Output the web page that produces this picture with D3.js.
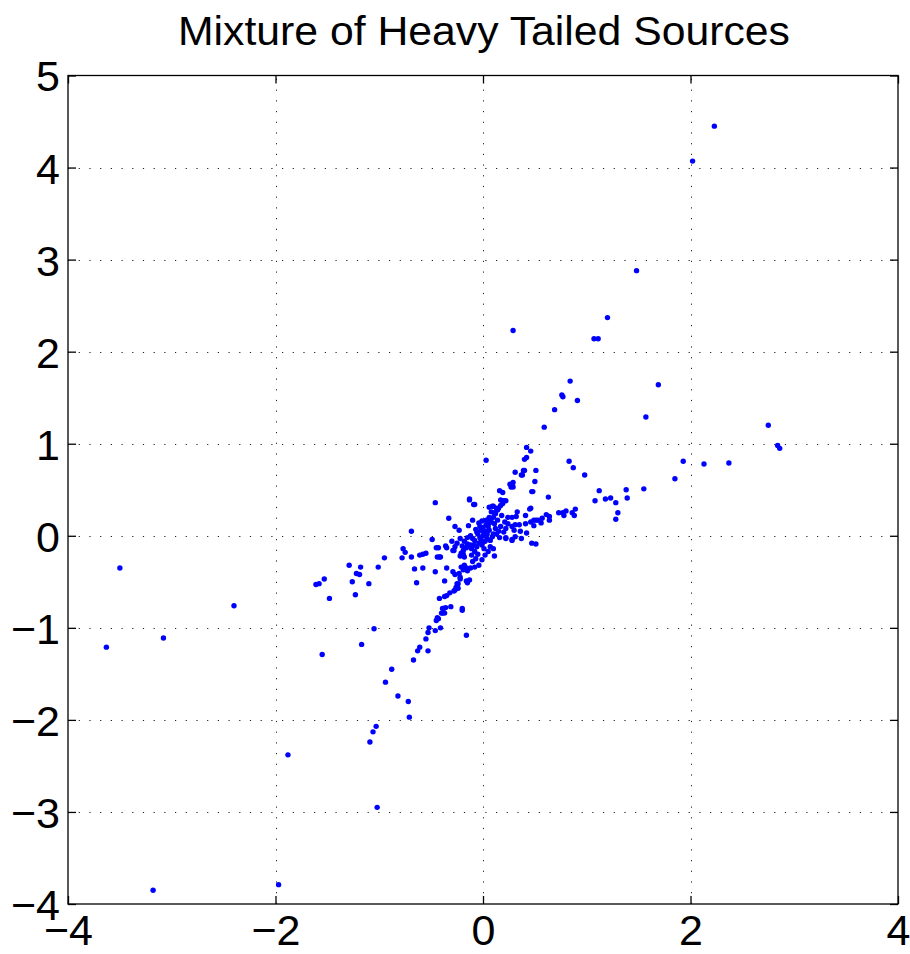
<!DOCTYPE html>
<html>
<head>
<meta charset="utf-8">
<script src="https://cdn.jsdelivr.net/npm/d3@7"></script>
<style>
  html, body { margin: 0; padding: 0; background: #fff; }
  svg { display: block; }
  text { font-family: "Liberation Sans", Arial, Helvetica, sans-serif; fill: #000; }
</style>
</head>
<body>
<svg id="chart" width="910" height="954"></svg>
<script>
const chartTitle = "Mixture of Heavy Tailed Sources";
const xDomain = [-4, 4];
const yDomain = [-4, 5];
const xTicks = [-4, -2, 0, 2, 4];
const yTicks = [-4, -3, -2, -1, 0, 1, 2, 3, 4, 5];

// [x, y] samples
const outerPoints = [
  [2.23,4.45],[2.02,4.07],[1.48,2.88],[1.20,2.37],[1.07,2.14],[1.11,2.14],[0.29,2.23],
  [0.84,1.68],[0.76,1.53],[0.77,1.51],[0.91,1.47],[0.69,1.37],[0.59,1.18],[1.69,1.64],
  [1.57,1.29],[2.75,1.20],[2.84,0.98],[2.86,0.95],[0.83,0.81],[0.87,0.74],[0.98,0.66],
  [1.93,0.81],[1.85,0.62],[2.13,0.78],[2.37,0.79],[1.12,0.49],[1.08,0.38],[1.18,0.40],
  [1.23,0.41],[1.28,0.36],[1.38,0.50],[1.39,0.41],[1.55,0.51],[1.30,0.25],[1.28,0.18],
  [-1.88,-2.38],[-1.02,-2.95],[-1.97,-3.79],[-3.18,-3.85],[-3.50,-0.35],[-2.40,-0.76],
  [-3.63,-1.21],[-3.08,-1.11],[-1.29,-0.32],[-1.18,-0.34],[-1.22,-0.41],[-1.19,-0.42],
  [-1.01,-0.34],[-1.53,-0.47],[-1.61,-0.53],[-1.58,-0.52],[-1.48,-0.68],[-1.26,-0.50],
  [-1.10,-0.52],[-1.23,-0.64],[-1.05,-1.01],[-1.17,-1.18],[-1.55,-1.29]
];
const upperArmPoints = [
  [0.77,0.25],[0.80,0.27],[0.78,0.22],[0.86,0.25],[0.89,0.29],[0.88,0.22],[0.73,0.25],
  [0.64,0.17],[0.64,0.21],[0.61,0.23],[0.57,0.19],[0.56,0.14],[0.51,0.17],[0.49,0.17],
  [0.46,0.15],[0.49,0.11],[0.41,0.13],[0.41,0.22],[0.32,0.21],[0.28,0.20],[0.24,0.20],
  [0.31,0.12],[0.21,0.15],[0.36,0.05],[0.06,0.20],[0.11,0.25],[0.13,0.30],[0.09,0.32],
  [0.06,0.31],[0.19,0.35],[0.17,0.39],[0.22,0.38],[0.20,0.38],[0.16,0.49],[0.19,0.47],
  [0.26,0.56],[0.27,0.53],[0.29,0.58],[0.48,0.48],[0.63,0.42],[0.46,0.30],[0.50,0.59],
  [0.51,0.71],[0.38,0.66],[0.40,0.71],[0.31,0.69],[0.42,0.85],[0.40,0.83],[0.42,0.96],
  [0.46,0.92],[0.03,0.82],[0.22,-0.02],[0.28,-0.04],[0.51,-0.09],[0.11,-0.22],[0.07,-0.12],
  [0.10,-0.14],[0.00,-0.07],[0.28,0.55],[0.29,0.53],[0.39,0.71],[0.37,0.66],[0.47,0.48],
  [0.17,0.33],[0.15,0.30],[0.10,0.32],[0.33,0.26],[0.45,0.29],[0.53,0.17],[0.31,-0.01],
  [0.42,0.03],[0.37,-0.03],[0.22,-0.03],[0.28,-0.05],[0.47,-0.08],[0.02,-0.21],[0.05,-0.17]
];
const lowerArmPoints = [
  [-0.15,-0.09],[-0.11,-0.14],[-0.46,0.36],[-0.13,0.39],[-0.08,0.34],[-0.33,0.19],
  [-0.10,0.17],[-0.27,0.10],[-0.23,0.06],[-0.14,0.11],[-0.69,0.05],[-0.49,-0.04],
  [-0.95,-0.24],[-0.77,-0.14],[-0.75,-0.18],[-0.78,-0.24],[-0.69,-0.23],[-0.61,-0.21],
  [-0.58,-0.20],[-0.55,-0.19],[-0.45,-0.13],[-0.43,-0.13],[-0.44,-0.23],[-0.42,-0.23],
  [-0.66,-0.36],[-0.58,-0.35],[-0.64,-0.51],[-0.46,-0.39],[-0.37,-0.49],[-0.35,-0.35],
  [-0.29,-0.39],[-0.27,-0.42],[-0.36,-0.11],[-0.29,-0.16],[-0.21,-0.19],[-0.22,-0.22],
  [-0.21,-0.34],[-0.19,-0.37],[-0.15,-0.38],[-0.08,-0.34],[-0.13,-0.48],[-0.15,-0.51],
  [-0.23,-0.41],[-0.22,-0.47],[-0.25,-0.52],[-0.26,-0.56],[-0.27,-0.59],[-0.20,-0.79],
  [-0.32,-0.62],[-0.35,-0.65],[-0.42,-0.68],[-0.31,-0.77],[-0.38,-0.79],[-0.40,-0.84],
  [-0.37,-0.84],[-0.44,-0.89],[-0.45,-0.92],[-0.52,-1.00],[-0.53,-1.05],[-0.41,-1.00],
  [-0.46,-1.03],[-0.55,-1.12],[-0.16,-1.08],[-0.61,-1.21],[-0.63,-1.25],[-0.53,-1.25],
  [-0.67,-1.35],[-0.88,-1.45],[-0.94,-1.59],[-0.82,-1.74],[-0.72,-1.80],[-0.71,-1.97],
  [-1.03,-2.07],[-1.06,-2.13],[-1.09,-2.24],[-0.18,-0.32],[-0.12,-0.35],[-0.16,-0.49],
  [-0.22,-0.45],[-0.24,-0.52],[-0.24,-0.57],[-0.28,-0.60],[-0.37,-0.66],[-0.39,-0.79],
  [-0.36,-0.78],[-0.39,-0.84],[-0.20,-0.81],[-0.43,-0.90],[-0.35,-0.13],[-0.19,-0.20],
  [-0.18,-0.23],[-0.13,0.40],[-0.09,0.34],[-0.28,-0.16],[-0.19,-0.16],[-0.01,-0.26],
  [-0.04,-0.32],[-0.16,-0.35],[-0.41,-0.23]
];
const centerPoints = [
  [0.02,0.05],[0.05,0.10],[0.08,0.15],[0.10,0.20],[0.12,0.24],[0.04,0.02],[-0.02,-0.04],
  [-0.04,-0.08],[-0.06,-0.12],[-0.08,-0.17],[-0.03,-0.02],[0.00,0.00],[0.01,0.03],
  [0.06,0.06],[-0.01,-0.10],[-0.05,-0.20],[-0.07,-0.25],[-0.10,-0.28],[0.14,0.28],
  [0.18,0.22],[0.03,0.12],[0.07,0.18],[0.15,0.05],[0.22,0.08],[0.28,0.10],[0.35,0.12],
  [-0.10,-0.03],[-0.18,-0.06],[-0.25,-0.08],[-0.12,0.00],[0.10,0.02],[0.20,0.04],
  [-0.05,0.02],[-0.15,-0.02],[0.12,0.08],[0.30,0.06],[-0.02,0.06],[0.04,-0.03],
  [0.09,-0.01],[-0.06,0.04],[0.02,-0.06],[-0.08,-0.05],[0.06,0.14],[-0.12,-0.10],
  [0.00,0.09],[0.11,0.13],[-0.03,0.10],[0.03,0.17],[-0.07,0.07],[-0.20,-0.11],
  [-0.16,-0.13],[-0.09,-0.10],[0.13,0.02],[0.17,0.10],[0.24,0.13],[-0.22,-0.03],
  [-0.30,-0.06],[0.07,-0.05],[0.16,-0.02],[-0.04,0.14],[0.08,0.26],[-0.11,-0.21],
  [0.01,-0.14],[0.14,0.17],[-0.27,-0.12],[-0.01,0.16]
];

const points = [...outerPoints, ...upperArmPoints, ...lowerArmPoints, ...centerPoints];

const svg = d3.select("#chart");
const plotLeft = 68, plotRight = 898, plotTop = 75.5, plotBottom = 904;

const x = d3.scaleLinear().domain(xDomain).range([plotLeft, plotRight]);
const y = d3.scaleLinear().domain(yDomain).range([plotBottom, plotTop]);

const fmt = d => (d < 0 ? "\u2212" + Math.abs(d) : String(d));

// grid (dotted)
const grid = svg.append("g").attr("stroke", "#222").attr("stroke-width", 1)
  .attr("stroke-dasharray", "1.2,9.5");
grid.selectAll("line.gx").data(xTicks.slice(1, -1)).join("line")
  .attr("x1", d => Math.round(x(d)) + 0.5).attr("x2", d => Math.round(x(d)) + 0.5)
  .attr("y1", plotBottom).attr("y2", plotTop);
grid.selectAll("line.gy").data(yTicks.slice(1, -1)).join("line")
  .attr("y1", d => Math.round(y(d)) + 0.5).attr("y2", d => Math.round(y(d)) + 0.5)
  .attr("x1", plotLeft).attr("x2", plotRight);

// axes with inner ticks on all sides
const tickLen = 8;
const axB = d3.axisBottom(x).tickValues(xTicks).tickSize(-tickLen).tickFormat(fmt).tickPadding(10);
const axT = d3.axisTop(x).tickValues(xTicks).tickSize(-tickLen).tickFormat("");
const axL = d3.axisLeft(y).tickValues(yTicks).tickSize(-tickLen).tickFormat(fmt).tickPadding(8);
const axR = d3.axisRight(y).tickValues(yTicks).tickSize(-tickLen).tickFormat("");

function styleAxis(g) {
  g.select(".domain").remove();
  g.selectAll(".tick line").attr("stroke", "#000").attr("stroke-width", 1.3);
  g.selectAll(".tick text").attr("font-size", 43).attr("fill", "#000")
    .attr("font-family", "'Liberation Sans', Arial, sans-serif");
}
svg.append("g").attr("transform", `translate(0,${plotBottom})`).call(axB).call(styleAxis)
  .selectAll(".tick text").attr("dy", "0.71em");
svg.append("g").attr("transform", `translate(0,${plotTop})`).call(axT).call(styleAxis);
svg.append("g").attr("transform", `translate(${plotLeft},0)`).call(axL).call(styleAxis)
  .selectAll(".tick text").attr("dy", "0.36em");
svg.append("g").attr("transform", `translate(${plotRight},0)`).call(axR).call(styleAxis);

// box
svg.append("rect").attr("x", plotLeft).attr("y", plotTop)
  .attr("width", plotRight - plotLeft).attr("height", plotBottom - plotTop)
  .attr("fill", "none").attr("stroke", "#000").attr("stroke-width", 1.3);

// points
svg.append("g").selectAll("circle").data(points).join("circle")
  .attr("cx", d => x(d[0])).attr("cy", d => y(d[1]))
  .attr("r", 2.7).attr("fill", "#0000ff");

// title
svg.append("text").attr("x", (plotLeft + plotRight) / 2 + 1).attr("y", 45)
  .attr("text-anchor", "middle").attr("font-size", 41)
  .attr("textLength", 612).attr("lengthAdjust", "spacingAndGlyphs")
  .text(chartTitle);
</script>
</body>
</html>
